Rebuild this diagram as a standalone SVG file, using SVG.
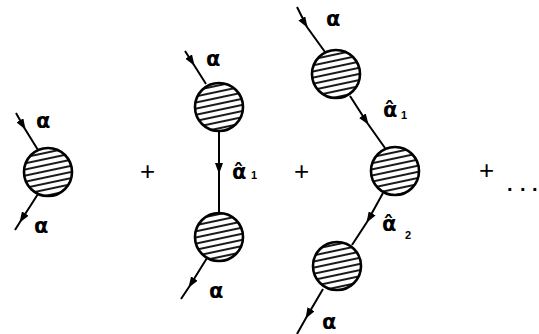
<svg xmlns="http://www.w3.org/2000/svg" width="539" height="334" viewBox="0 0 539 334">
<style>
.ln{fill:none;stroke:#000;stroke-width:2;marker-mid:url(#ah)}
.bl{fill:url(#h);stroke:#000;stroke-width:2.6}
.a{font-family:"DejaVu Sans",sans-serif;font-size:21px;font-weight:bold;fill:#000}
.sub{font-family:"Liberation Sans",sans-serif;font-size:11px;font-weight:bold;fill:#000}
.op{font-family:"Liberation Sans",sans-serif;font-size:26px;fill:#000}
</style>
<defs>
<pattern id="h" patternUnits="userSpaceOnUse" width="12" height="6" patternTransform="rotate(-12)">
<line x1="0" y1="3" x2="12" y2="3" stroke="#000" stroke-width="1.8"/>
</pattern>
<marker id="ah" markerUnits="userSpaceOnUse" markerWidth="11" markerHeight="8" refX="10" refY="4" orient="auto">
<path d="M0,0 L11,4 L0,8 z" fill="#000"/>
</marker>
</defs>
<g id="connectors">
<path class="ln" d="M16,113 L25,129 L38,150"/>
<path class="ln" d="M38,194 L20,222 L15,230"/>
<path class="ln" d="M185,51 L194,65 L206,84"/>
<path class="ln" d="M219,131 L219,173 L219,213"/>
<path class="ln" d="M207,258 L189,287 L181,299"/>
<path class="ln" d="M297,7 L307,27 L325,52"/>
<path class="ln" d="M350,96 L368,124 L385,148"/>
<path class="ln" d="M383,193 L367,222 L352,245"/>
<path class="ln" d="M323,289 L306,318 L297,334"/>
</g>
<g id="blob1"><circle class="bl" cx="48" cy="172" r="24"/></g>
<g id="blob2"><circle class="bl" cx="219" cy="107" r="24"/></g>
<g id="blob3"><circle class="bl" cx="219" cy="237" r="24"/></g>
<g id="blob4"><circle class="bl" cx="336" cy="74" r="24"/></g>
<g id="blob5"><circle class="bl" cx="395" cy="171" r="24"/></g>
<g id="blob6"><circle class="bl" cx="337" cy="266" r="24"/></g>
<g id="labels">
<text class="a" x="36" y="128">α</text>
<text class="a" x="34" y="233">α</text>
<text class="a" x="206" y="66">α</text>
<text class="a" x="232" y="179">α̂</text>
<text class="sub" x="251" y="179">1</text>
<text class="a" x="209" y="298">α</text>
<text class="a" x="326" y="26">α</text>
<text class="a" x="383" y="117">α̂</text>
<text class="sub" x="401" y="119">1</text>
<text class="a" x="382" y="231">α̂</text>
<text class="sub" x="405" y="239">2</text>
<text class="a" x="322" y="329">α</text>
</g>
<g id="ops">
<text class="op" x="140" y="180">+</text>
<text class="op" x="294" y="180">+</text>
<text class="op" x="479" y="179">+</text>
<text class="op" x="507 520 532" y="191" style="font-weight:bold;font-size:20px">...</text>
</g>
</svg>
